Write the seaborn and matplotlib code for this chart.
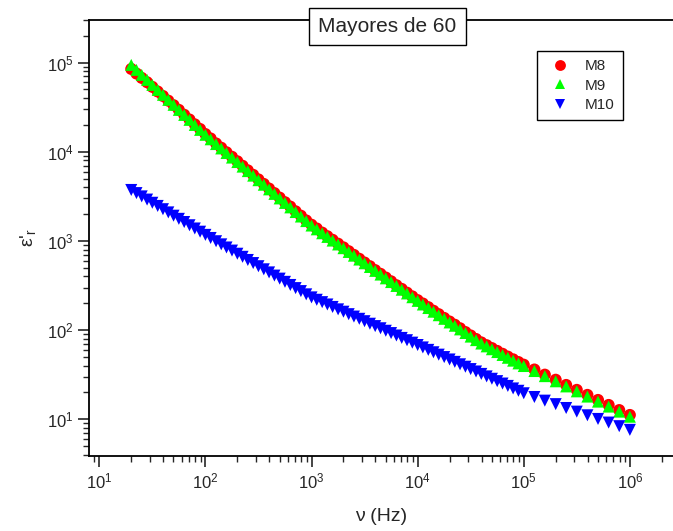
import seaborn as sns
import matplotlib.pyplot as plt
import pandas as pd

# frequency sweep (Hz)
freq = [20, 22.4, 25.1, 28.2, 31.6, 35.5, 39.8, 44.7, 50.1, 56.2, 63.1, 70.8, 79.4, 89.1,
        100, 112, 126, 141, 158, 178, 200, 224, 251, 282, 316, 355, 398, 447, 501, 562, 631, 708, 794, 891,
        1000, 1120, 1260, 1410, 1580, 1780, 2000, 2240, 2510, 2820, 3160, 3550, 3980, 4470, 5010, 5620, 6310, 7080, 7940, 8910,
        10000, 11200, 12600, 14100, 15800, 17800, 20000, 22400, 25100, 28200, 31600, 35500, 39800, 44700, 50100, 56200, 63100, 70800, 79400, 89100,
        100000, 126000, 158000, 200000, 251000, 316000, 398000, 501000, 631000, 794000, 1000000]

m8 = [84800, 75300, 67300, 60200, 53400, 47400, 42200, 37400, 33300, 29500, 26000, 23000, 20300, 18000,
      15800, 14100, 12400, 11100, 9870, 8780, 7820, 6960, 6190, 5510, 4900, 4360, 3870, 3440, 3060, 2720, 2430, 2150, 1920, 1700,
      1520, 1380, 1240, 1130, 1030, 932, 847, 768, 698, 631, 573, 521, 471, 428, 389, 353, 319, 290, 263, 239,
      217, 199, 181, 165, 151, 137, 125, 115, 105, 95.2, 87.2, 79.6, 72.9, 67.8, 62.9, 58.5, 54.3, 50.5, 47.1, 43.9,
      41.0, 36.2, 31.7, 27.8, 24.3, 21.4, 18.8, 16.5, 14.5, 12.7, 11.2]

m9 = [94200, 82800, 72800, 64000, 56200, 49400, 43500, 38200, 33600, 29500, 25900, 22800, 20000, 17600,
      15500, 13800, 12200, 10900, 9680, 8610, 7670, 6820, 6070, 5400, 4800, 4270, 3790, 3370, 3000, 2670, 2380, 2110, 1880, 1670,
      1490, 1350, 1220, 1110, 1010, 914, 830, 753, 684, 619, 562, 511, 462, 420, 381, 346, 313, 284, 258, 234,
      213, 194, 177, 161, 147, 134, 122, 112, 102, 92.9, 84.7, 77.3, 70.8, 65.8, 61.1, 56.8, 52.7, 49.0, 45.5, 42.4,
      39.6, 34.8, 30.5, 26.7, 23.4, 20.6, 18.0, 15.8, 13.9, 12.2, 10.7]

m10 = [3730, 3440, 3160, 2910, 2680, 2470, 2270, 2090, 1920, 1770, 1630, 1500, 1380, 1270,
       1170, 1080, 993, 916, 845, 780, 719, 664, 612, 565, 521, 481, 444, 409, 378, 348, 321, 296, 274, 252,
       233, 219, 206, 194, 182, 171, 161, 151, 142, 134, 126, 118, 111, 105, 98.4, 92.7, 87.1, 81.8, 77.1, 72.4,
       68.1, 64.0, 60.1, 56.5, 53.1, 49.9, 46.9, 44.1, 41.4, 38.9, 36.6, 34.4, 32.3, 30.3, 28.5, 26.8, 25.2, 23.7, 22.2, 20.9,
       19.6, 17.8, 16.2, 14.8, 13.4, 12.2, 11.1, 10.1, 9.20, 8.38, 7.62]

samples = ["M8", "M9", "M10"]
colors = {"M8": "#ff0000", "M9": "#00ff00", "M10": "#0000ff"}
markers = {"M8": "o", "M9": "^", "M10": "v"}

df = pd.concat([
    pd.DataFrame({"freq": freq, "eps": m8, "sample": "M8"}),
    pd.DataFrame({"freq": freq, "eps": m9, "sample": "M9"}),
    pd.DataFrame({"freq": freq, "eps": m10, "sample": "M10"}),
])

sns.set_style("ticks")
plt.rcParams["font.family"] = ["Liberation Sans", "DejaVu Sans"]
plt.rcParams["mathtext.fontset"] = "custom"
plt.rcParams["mathtext.rm"] = "Liberation Sans"
plt.rcParams["mathtext.it"] = "Liberation Sans:italic"

fig = plt.figure(figsize=(6.73, 5.31), dpi=100)
ax = fig.add_axes([0.1327, 0.1418, 0.8673, 0.8205])

sns.scatterplot(data=df, x="freq", y="eps", hue="sample", style="sample",
                hue_order=samples, style_order=samples, palette=colors, markers=markers,
                s=75, linewidth=0, ax=ax)

ax.set_xscale("log")
ax.set_yscale("log")
ax.set_xlim(8.05, 2.55e6)
ax.set_ylim(3.91, 3.0e5)

ax.set_xlabel("ν (Hz)", fontsize=14, labelpad=12)
ax.set_ylabel(r"ε'$_\mathregular{r}$", fontsize=14, labelpad=6)

for s in ax.spines.values():
    s.set_linewidth(1.3)
    s.set_color("black")
ax.spines["right"].set_visible(False)
ax.tick_params(which="major", direction="out", length=8, width=1.2, labelsize=12, top=False, right=False)
ax.tick_params(which="minor", direction="out", length=4, width=1.0, top=False, right=False)

ax.text(0.511, 0.985, "Mayores de 60", transform=ax.transAxes, ha="center", va="center",
        fontsize=15, bbox=dict(boxstyle="square,pad=0.45", fc="white", ec="black", lw=1.0))

leg = ax.legend(loc="upper right", bbox_to_anchor=(0.914, 0.929), frameon=True, fancybox=False,
                edgecolor="black", framealpha=1, fontsize=11, handletextpad=0.6, borderpad=0.55,
                borderaxespad=0, labelspacing=0.35, markerscale=0.9)
leg.get_frame().set_linewidth(1.0)

fig.savefig("out.png", dpi=100)
